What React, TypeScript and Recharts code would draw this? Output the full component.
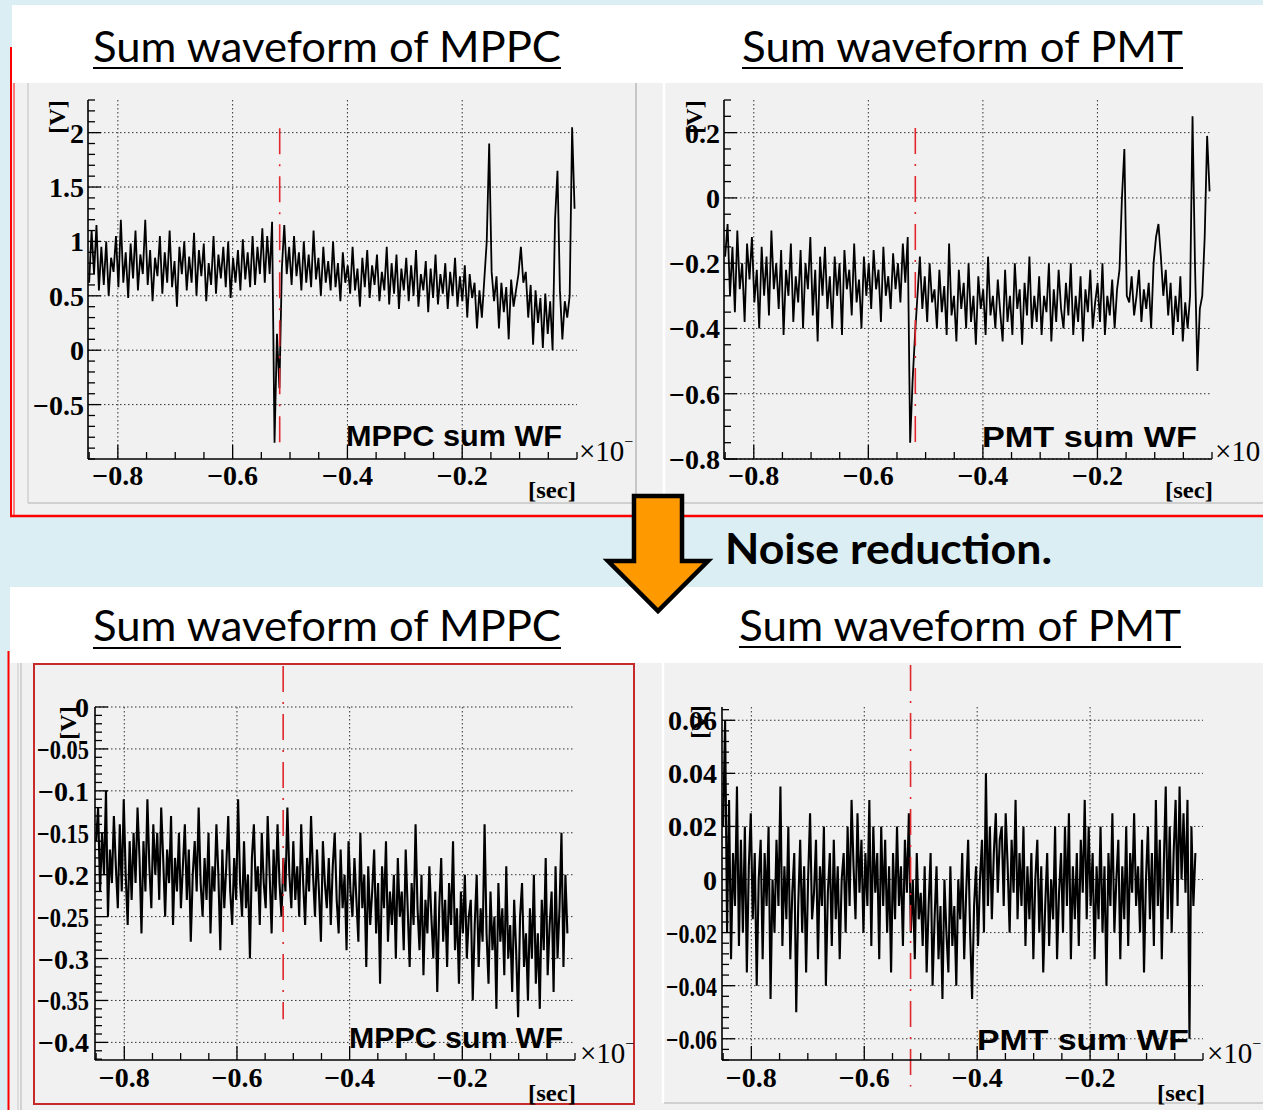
import React from 'react';
import { LineChart, Line, XAxis, YAxis, CartesianGrid, ReferenceLine } from 'recharts';

// ---- sampling grid ----
const T0 = -0.85;
const DT_RAW = 0.00425;
const DT_FILT = 0.0035;

// ---- series values ----
const MPPC_RAW = [
  0.62, 1.10, 0.70, 1.15, 0.55, 0.95, 0.60, 1.00, 0.50, 0.85,
  0.72, 1.05, 0.58, 1.20, 0.62, 0.90, 0.48, 0.98, 0.66, 1.10,
  0.55, 0.88, 0.70, 1.20, 0.60, 0.92, 0.45, 0.85, 0.68, 1.05,
  0.52, 0.90, 0.62, 1.10, 0.58, 0.82, 0.40, 0.95, 0.70, 1.00,
  0.55, 0.86, 0.62, 1.08, 0.50, 0.92, 0.68, 0.98, 0.45, 0.80,
  0.60, 1.05, 0.52, 0.88, 0.66, 0.95, 0.58, 1.00, 0.48, 0.85,
  0.62, 0.92, 0.55, 1.02, 0.65, 0.90, 0.58, 1.05, 0.60, 0.95,
  0.70, 1.12, 0.62, 1.05, 0.70, 1.18, -0.85, 0.15, -0.35, 0.75,
  1.15, 0.70, 0.95, 0.60, 1.05, 0.68, 0.90, 0.55, 1.00, 0.62,
  0.88, 0.58, 1.10, 0.65, 0.85, 0.50, 0.95, 0.62, 0.82, 0.55,
  1.00, 0.58, 0.80, 0.45, 0.90, 0.62, 0.78, 0.52, 0.95, 0.55,
  0.75, 0.40, 0.85, 0.58, 0.92, 0.48, 0.78, 0.60, 0.88, 0.45,
  0.72, 0.55, 0.95, 0.42, 0.80, 0.52, 0.88, 0.38, 0.75, 0.55,
  0.85, 0.45, 0.78, 0.50, 0.92, 0.40, 0.70, 0.55, 0.82, 0.35,
  0.75, 0.48, 0.88, 0.42, 0.70, 0.52, 0.80, 0.38, 0.72, 0.50,
  0.85, 0.40, 0.68, 0.45, 0.78, 0.30, 0.70, 0.48, 0.62, 0.20,
  0.55, 0.30, 0.65, 1.00, 1.90, 0.72, 0.45, 0.68, 0.20, 0.62,
  0.35, 0.58, 0.10, 0.65, 0.40, 0.55, 0.70, 0.95, 0.62, 0.72,
  0.30, 0.60, 0.05, 0.55, 0.25, 0.48, 0.02, 0.52, 0.15, 0.45,
  0.00, 1.20, 1.65, 0.55, 0.10, 0.45, 0.30, 0.50, 2.05, 1.30,
];

const PMT_RAW = [
  -0.18, -0.08, -0.30, -0.15, -0.35, -0.10, -0.28, -0.20, -0.38, -0.14,
  -0.25, -0.12, -0.32, -0.22, -0.40, -0.15, -0.30, -0.18, -0.36, -0.10,
  -0.28, -0.20, -0.34, -0.16, -0.42, -0.22, -0.30, -0.14, -0.38, -0.24,
  -0.32, -0.16, -0.40, -0.20, -0.28, -0.12, -0.36, -0.22, -0.44, -0.18,
  -0.30, -0.15, -0.34, -0.24, -0.40, -0.18, -0.30, -0.20, -0.42, -0.16,
  -0.28, -0.22, -0.36, -0.14, -0.32, -0.25, -0.40, -0.18, -0.30, -0.20,
  -0.34, -0.16, -0.28, -0.22, -0.38, -0.15, -0.30, -0.24, -0.34, -0.17,
  -0.28, -0.20, -0.32, -0.14, -0.26, -0.12, -0.75, -0.56, -0.42, -0.30,
  -0.18, -0.34, -0.24, -0.38, -0.20, -0.32, -0.28, -0.40, -0.22, -0.35,
  -0.27, -0.42, -0.14, -0.36, -0.30, -0.44, -0.22, -0.34, -0.26, -0.40,
  -0.20, -0.38, -0.30, -0.45, -0.24, -0.34, -0.28, -0.42, -0.18, -0.36,
  -0.30, -0.40, -0.25, -0.35, -0.44, -0.22, -0.38, -0.30, -0.42, -0.20,
  -0.34, -0.28, -0.45, -0.26, -0.36, -0.18, -0.40, -0.30, -0.38, -0.24,
  -0.42, -0.30, -0.35, -0.20, -0.44, -0.28, -0.38, -0.22, -0.34, -0.40,
  -0.26, -0.36, -0.20, -0.42, -0.30, -0.38, -0.24, -0.44, -0.28, -0.35,
  -0.22, -0.40, -0.32, -0.26, -0.38, -0.20, -0.42, -0.30, -0.36, -0.25,
  -0.40, -0.28, -0.22, 0.00, 0.15, -0.30, -0.32, -0.24, -0.36, -0.30,
  -0.22, -0.38, -0.28, -0.34, -0.26, -0.40, -0.20, -0.12, -0.08, -0.18,
  -0.30, -0.22, -0.36, -0.26, -0.42, -0.30, -0.38, -0.24, -0.44, -0.32,
  -0.40, -0.30, 0.25, -0.20, -0.53, -0.34, -0.30, -0.12, 0.19, 0.02,
];

const MPPC_FILT = [
  -0.16, -0.12, -0.22, -0.15, -0.20, -0.10, -0.25, -0.17, -0.21, -0.13,
  -0.19, -0.24, -0.14, -0.22, -0.11, -0.20, -0.26, -0.16, -0.23, -0.15,
  -0.21, -0.12, -0.18, -0.27, -0.16, -0.22, -0.11, -0.19, -0.24, -0.14,
  -0.20, -0.15, -0.23, -0.12, -0.18, -0.25, -0.17, -0.21, -0.13, -0.26,
  -0.18, -0.22, -0.15, -0.24, -0.19, -0.14, -0.23, -0.17, -0.28, -0.20,
  -0.16, -0.22, -0.12, -0.21, -0.25, -0.18, -0.23, -0.15, -0.27, -0.19,
  -0.22, -0.14, -0.20, -0.29, -0.17, -0.24, -0.19, -0.13, -0.22, -0.26,
  -0.18, -0.23, -0.11, -0.21, -0.25, -0.16, -0.24, -0.20, -0.30, -0.18,
  -0.14, -0.22, -0.19, -0.26, -0.15, -0.21, -0.24, -0.13, -0.20, -0.27,
  -0.17, -0.23, -0.14, -0.21, -0.25, -0.18, -0.22, -0.12, -0.20, -0.24,
  -0.16, -0.23, -0.19, -0.25, -0.14, -0.21, -0.26, -0.18, -0.22, -0.13,
  -0.20, -0.25, -0.17, -0.22, -0.28, -0.16, -0.21, -0.24, -0.18, -0.26,
  -0.19, -0.15, -0.23, -0.27, -0.17, -0.24, -0.20, -0.29, -0.16, -0.22,
  -0.25, -0.18, -0.23, -0.28, -0.15, -0.24, -0.20, -0.31, -0.19, -0.26,
  -0.22, -0.17, -0.27, -0.21, -0.33, -0.19, -0.24, -0.16, -0.28, -0.22,
  -0.26, -0.20, -0.30, -0.18, -0.25, -0.22, -0.29, -0.17, -0.24, -0.31,
  -0.21, -0.26, -0.14, -0.24, -0.29, -0.20, -0.32, -0.23, -0.27, -0.19,
  -0.25, -0.30, -0.22, -0.34, -0.24, -0.18, -0.28, -0.23, -0.31, -0.21,
  -0.26, -0.16, -0.29, -0.24, -0.33, -0.22, -0.27, -0.20, -0.30, -0.25,
  -0.23, -0.35, -0.26, -0.20, -0.31, -0.24, -0.28, -0.14, -0.27, -0.33,
  -0.22, -0.29, -0.25, -0.36, -0.21, -0.28, -0.24, -0.32, -0.19, -0.30,
  -0.26, -0.34, -0.23, -0.29, -0.37, -0.25, -0.21, -0.31, -0.27, -0.35,
  -0.24, -0.30, -0.20, -0.33, -0.27, -0.36, -0.23, -0.29, -0.18, -0.32,
  -0.26, -0.22, -0.34, -0.19, -0.30, -0.24, -0.15, -0.31, -0.20, -0.27,
];

const PMT_FILT = [
  0.02, 0.06, -0.02, 0.03, -0.03, 0.01, -0.01, 0.035, -0.025, 0.015,
  -0.02, 0.02, -0.035, 0.005, 0.025, -0.015, 0.01, -0.04, 0.00, 0.015,
  -0.03, 0.01, -0.01, 0.02, -0.045, 0.00, -0.02, 0.015, -0.01, 0.035,
  -0.025, 0.005, -0.015, 0.02, -0.03, -0.005, 0.01, -0.05, -0.01, 0.015,
  -0.02, 0.005, -0.035, 0.00, 0.025, -0.015, -0.005, 0.015, -0.03, 0.005,
  -0.01, 0.02, -0.04, -0.005, 0.01, -0.025, 0.015, -0.015, 0.005, -0.03,
  0.00, 0.01, -0.02, 0.02, -0.01, 0.03, 0.005, -0.015, 0.025, -0.005,
  0.015, -0.02, 0.01, -0.01, 0.03, -0.025, 0.02, -0.005, 0.01, -0.03,
  0.02, -0.01, 0.015, -0.02, 0.005, -0.035, 0.01, -0.015, 0.02, -0.01,
  0.005, -0.025, 0.015, -0.005, 0.025, -0.02, 0.00, -0.03, 0.01, -0.015,
  -0.005, -0.025, 0.005, -0.035, -0.01, 0.01, -0.04, -0.015, 0.005, -0.03,
  -0.01, -0.045, 0.00, -0.02, -0.035, 0.005, -0.025, -0.01, -0.04, 0.00,
  -0.015, 0.01, -0.03, -0.005, 0.015, -0.02, -0.045, -0.01, 0.005, -0.025,
  0.00, 0.015, -0.02, 0.04, -0.01, 0.02, -0.015, 0.01, 0.025, -0.005,
  0.015, 0.02, -0.01, 0.025, 0.005, -0.02, 0.015, -0.005, 0.03, -0.015,
  0.01, -0.01, 0.02, -0.025, 0.005, -0.015, 0.01, -0.03, 0.00, 0.015,
  -0.02, 0.005, -0.035, -0.01, 0.01, -0.025, 0.00, -0.015, 0.02, -0.03,
  -0.005, 0.01, -0.02, 0.02, -0.01, 0.025, -0.03, 0.005, -0.015, 0.01,
  -0.025, 0.015, -0.005, 0.03, -0.015, 0.02, -0.01, 0.01, -0.03, 0.005,
  -0.015, 0.02, -0.02, 0.005, -0.04, 0.01, -0.01, 0.025, -0.02, 0.00,
  0.015, -0.03, 0.005, -0.015, 0.02, -0.025, 0.01, -0.005, 0.025, -0.01,
  0.005, -0.02, 0.015, -0.035, 0.00, 0.02, -0.015, 0.01, -0.025, 0.03,
  -0.01, 0.015, -0.03, 0.005, 0.035, -0.015, 0.02, -0.02, 0.01, 0.03,
  -0.01, 0.035, 0.00, 0.025, -0.005, 0.03, -0.06, 0.02, -0.01, 0.01,
];

// ---- ticks / labels ----
const X_MAJOR = [-0.8, -0.6, -0.4, -0.2];
const X_LABELS = ['\u22120.8', '\u22120.6', '\u22120.4', '\u22120.2'];
const TL_Y_MAJOR = [-0.5, 0, 0.5, 1, 1.5, 2];
const TL_Y_LABELS = ['\u22120.5', '0', '0.5', '1', '1.5', '2'];
const TR_Y_MAJOR = [-0.8, -0.6, -0.4, -0.2, 0, 0.2];
const TR_Y_LABELS = ['\u22120.8', '\u22120.6', '\u22120.4', '\u22120.2', '0', '0.2'];
const BL_Y_MAJOR = [-0.4, -0.35, -0.3, -0.25, -0.2, -0.15, -0.1, -0.05, 0];
const BL_Y_LABELS = ['\u22120.4', '\u22120.35', '\u22120.3', '\u22120.25', '\u22120.2', '\u22120.15', '\u22120.1', '\u22120.05', '0'];
const BR_Y_MAJOR = [-0.06, -0.04, -0.02, 0, 0.02, 0.04, 0.06];
const BR_Y_LABELS = ['\u22120.06', '\u22120.04', '\u22120.02', '0', '0.02', '0.04', '0.06'];

const MARKER_T = -0.518;

function stepTicks(lo: number, hi: number, step: number): number[] {
  const out: number[] = [];
  const s = Math.ceil(lo / step - 1e-9);
  const e = Math.floor(hi / step + 1e-9);
  for (let k = s; k <= e; k++) out.push(Math.round(k * step * 1e6) / 1e6);
  return out;
}

function rows(values: number[], dt: number) {
  return values.map((v, i) => ({ t: Math.round((T0 + i * dt) * 1e6) / 1e6, v }));
}

const SERIF = "'Liberation Serif', 'DejaVu Serif', serif";
const SANS = "'Liberation Sans', Arial, sans-serif";
const TITLE = "Lato, 'Open Sans', sans-serif";
const LABEL_SIZE = 28;

function majorIndex(majors: number[], v: number) {
  return majors.findIndex((m) => Math.abs(m - v) < 1e-7);
}

function estWidth(s: string) {
  let w = 0;
  for (const ch of s) w += ch === '\u2212' ? 0.57 : ch === '.' ? 0.25 : 0.5;
  return w * LABEL_SIZE;
}

type Cfg = {
  id: string;
  data: { t: number; v: number }[];
  box: { left: number; top: number; width: number; height: number };
  plot: { left: number; top: number; right: number; bottom: number };
  xDomain: [number, number];
  yDomain: [number, number];
  yMajor: number[];
  yLabels: string[];
  yStep: number;
  labelGap: number;
  xLabelDy: number;
  red: [number, number];
  lineW: number;
};

const X_DOMAIN: [number, number] = [-0.852, 0];

const CHARTS: Cfg[] = [
  {
    id: 'tl', data: rows(MPPC_RAW, DT_RAW),
    box: { left: 28, top: 50, width: 608, height: 466 },
    plot: { left: 88, top: 100, right: 577, bottom: 459 },
    xDomain: X_DOMAIN, yDomain: [-1, 2.3],
    yMajor: TL_Y_MAJOR, yLabels: TL_Y_LABELS, yStep: 0.1, labelGap: 4, xLabelDy: 26,
    red: [2.04, -0.85], lineW: 1.8,
  },
  {
    id: 'tr', data: rows(PMT_RAW, DT_RAW),
    box: { left: 664, top: 50, width: 599, height: 466 },
    plot: { left: 724, top: 100, right: 1212, bottom: 459 },
    xDomain: X_DOMAIN, yDomain: [-0.8, 0.3],
    yMajor: TR_Y_MAJOR, yLabels: TR_Y_LABELS, yStep: 0.05, labelGap: 4, xLabelDy: 26,
    red: [0.214, -0.752], lineW: 1.8,
  },
  {
    id: 'bl', data: rows(MPPC_FILT, DT_FILT),
    box: { left: 35, top: 657, width: 599, height: 446 },
    plot: { left: 95, top: 707, right: 575, bottom: 1060 },
    xDomain: X_DOMAIN, yDomain: [-0.421, 0],
    yMajor: BL_Y_MAJOR, yLabels: BL_Y_LABELS, yStep: 0.01, labelGap: 6, xLabelDy: 27,
    red: [0.049, -0.3725], lineW: 2.1,
  },
  {
    id: 'br', data: rows(PMT_FILT, DT_FILT),
    box: { left: 664, top: 657, width: 599, height: 446 },
    plot: { left: 722, top: 707, right: 1203, bottom: 1060 },
    xDomain: X_DOMAIN, yDomain: [-0.068, 0.065],
    yMajor: BR_Y_MAJOR, yLabels: BR_Y_LABELS, yStep: 0.004, labelGap: 5, xLabelDy: 27,
    red: [0.0808, -0.078], lineW: 2.1,
  },
];

function WaveChart({ c }: { c: Cfg }) {
  const { box, plot } = c;
  const yTicks = stepTicks(c.yDomain[0], c.yDomain[1], c.yStep);
  const xTicks = stepTicks(c.xDomain[0], c.xDomain[1], 0.05);
  const leftW = plot.left - box.left;
  const rightM = box.left + box.width - plot.right;
  const bottomH = box.top + box.height - plot.bottom;
  const topM = plot.top - box.top;
  const avail = leftW - c.labelGap - 2;

  const yTick = (side: 'left' | 'right') => (p: any) => {
    const v = p.payload.value;
    const idx = majorIndex(c.yMajor, v);
    const len = idx >= 0 ? 13 : 7;
    const dir = side === 'left' ? 1 : -1;
    const label = idx >= 0 ? c.yLabels[idx] : '';
    const tooWide = label !== '' && estWidth(label) > avail;
    return (
      <g>
        <line x1={p.x} y1={p.y} x2={p.x + dir * len} y2={p.y} stroke="#000" strokeWidth={1.3} />
        {side === 'left' && idx >= 0 && (
          <text x={p.x - c.labelGap} y={p.y + 10} textAnchor="end" fontFamily={SERIF}
            fontWeight="bold" fontSize={LABEL_SIZE} fill="#000"
            {...(tooWide ? { textLength: avail, lengthAdjust: 'spacingAndGlyphs' } : {})}>{label}</text>
        )}
      </g>
    );
  };
  const xTick = (side: 'top' | 'bottom') => (p: any) => {
    const v = p.payload.value;
    const idx = majorIndex(X_MAJOR, v);
    const len = idx >= 0 ? 14 : 7;
    const dir = side === 'bottom' ? -1 : 1;
    return (
      <g>
        <line x1={p.x} y1={p.y} x2={p.x} y2={p.y + dir * len} stroke="#000" strokeWidth={1.3} />
        {side === 'bottom' && idx >= 0 && (
          <text x={p.x} y={p.y + c.xLabelDy} textAnchor="middle" fontFamily={SERIF}
            fontWeight="bold" fontSize={LABEL_SIZE} fill="#000">{X_LABELS[idx]}</text>
        )}
      </g>
    );
  };

  return (
    <div style={{ position: 'absolute', left: box.left, top: box.top, width: box.width, height: box.height, overflow: 'hidden' }}>
      <LineChart width={box.width} height={box.height} data={c.data}
        margin={{ top: topM, right: rightM, bottom: 0, left: 0 }}>
        <CartesianGrid xAxisId="b" yAxisId="l" horizontalValues={c.yMajor} verticalValues={X_MAJOR}
          stroke="#333" strokeDasharray="1.5 2.5" strokeWidth={1} fill="none" />
        <XAxis xAxisId="b" dataKey="t" type="number" domain={c.xDomain} allowDataOverflow
          orientation="bottom" height={bottomH} ticks={xTicks} interval={0}
          tickSize={0} tickMargin={0} tickLine={false} tick={xTick('bottom')}
          axisLine={{ stroke: '#000', strokeWidth: 1.6 }} />
        <XAxis xAxisId="t" dataKey="t" type="number" domain={c.xDomain} allowDataOverflow
          orientation="top" height={0} ticks={xTicks} interval={0}
          tickSize={0} tickMargin={0} tickLine={false} tick={xTick('top')}
          axisLine={{ stroke: '#000', strokeWidth: 1.6 }} />
        <YAxis yAxisId="l" type="number" domain={c.yDomain} allowDataOverflow
          orientation="left" width={leftW} ticks={yTicks} interval={0}
          tickSize={0} tickMargin={0} tickLine={false} tick={yTick('left')}
          axisLine={{ stroke: '#000', strokeWidth: 1.6 }} />
        <YAxis yAxisId="r" type="number" domain={c.yDomain} allowDataOverflow
          orientation="right" width={0} ticks={yTicks} interval={0}
          tickSize={0} tickMargin={0} tickLine={false} tick={yTick('right')}
          axisLine={{ stroke: '#000', strokeWidth: 1.6 }} />
        <Line xAxisId="b" yAxisId="l" type="linear" dataKey="v" stroke="#000" strokeWidth={c.lineW}
          dot={false} isAnimationActive={false} />
        <ReferenceLine xAxisId="b" yAxisId="l" ifOverflow="visible"
          segment={[{ x: MARKER_T, y: c.red[0] }, { x: MARKER_T, y: c.red[1] }]}
          stroke="#e0282e" strokeWidth={1.6} strokeDasharray="26 10 2 10" />
      </LineChart>
    </div>
  );
}

type Note = { name: string; nameX: number; nameW: number; nameY: number; xTenX: number; xTenY: number; sup: boolean; secX: number; secY: number; vX: number; vY: number };
const NOTES: Note[] = [
  { name: 'MPPC sum WF', nameX: 346, nameW: 216, nameY: 446, xTenX: 579, xTenY: 461, sup: true, secX: 528, secY: 498, vX: 57, vY: 117 },
  { name: 'PMT sum WF', nameX: 982, nameW: 215, nameY: 447, xTenX: 1215, xTenY: 461, sup: false, secX: 1165, secY: 498, vX: 694, vY: 117 },
  { name: 'MPPC sum WF', nameX: 349, nameW: 214, nameY: 1048, xTenX: 580, xTenY: 1063, sup: true, secX: 528, secY: 1101, vX: 68, vY: 723 },
  { name: 'PMT sum WF', nameX: 977, nameW: 212, nameY: 1050, xTenX: 1207, xTenY: 1063, sup: true, secX: 1157, secY: 1101, vX: 699, vY: 722 },
];

const TITLES = [
  { text: 'Sum waveform of MPPC', x: 93, w: 468, y: 62, u: 68 },
  { text: 'Sum waveform of PMT', x: 742, w: 441, y: 62, u: 68 },
  { text: 'Sum waveform of MPPC', x: 93, w: 468, y: 641, u: 648 },
  { text: 'Sum waveform of PMT', x: 739, w: 442, y: 641, u: 647 },
];

export default function App() {
  return (
    <div style={{ position: 'absolute', left: 0, top: 0, width: 1263, height: 1110, overflow: 'hidden', background: '#daeef3' }}>
      <svg width={1263} height={1110} style={{ position: 'absolute', left: 0, top: 0 }}>
        <rect width={1263} height={1110} fill="#daeef3" />
        {/* top panel */}
        <rect x={11} y={47} width={1252} height={468} fill="#f1f1f1" />
        <line x1={11} y1={47} x2={11} y2={516} stroke="#ff0000" strokeWidth={2} />
        <line x1={14} y1={47} x2={14} y2={516} stroke="#ff3030" strokeWidth={1.2} />
        <line x1={28} y1={83} x2={28} y2={503} stroke="#c8c8c8" strokeWidth={1.2} />
        <line x1={28} y1={503} x2={1263} y2={503} stroke="#c4c4c4" strokeWidth={1.5} />
        <line x1={636} y1={83} x2={636} y2={503} stroke="#b8b8b8" strokeWidth={1.5} />
        <line x1={664} y1={83} x2={664} y2={503} stroke="#ffffff" strokeWidth={2.5} />
        <line x1={10} y1={516} x2={1263} y2={516} stroke="#ff0000" strokeWidth={2.5} />
        <rect x={12} y={5} width={1251} height={78} fill="#ffffff" />
        {/* bottom panel */}
        <rect x={8} y={663} width={1255} height={447} fill="#f1f1f1" />
        <line x1={8.5} y1={651} x2={8.5} y2={1110} stroke="#ff0000" strokeWidth={2} />
        <line x1={18} y1={663} x2={18} y2={1110} stroke="#d0d0d0" strokeWidth={1.2} />
        <line x1={21} y1={663} x2={21} y2={1110} stroke="#c0c0c0" strokeWidth={1.2} />
        <rect x={34} y={664} width={600} height={440} fill="none" stroke="#c62a2a" strokeWidth={2} />
        <line x1={663} y1={663} x2={663} y2={1103} stroke="#ffffff" strokeWidth={2.5} />
        <line x1={664} y1={1103} x2={1263} y2={1103} stroke="#c4c4c4" strokeWidth={1.5} />
        <rect x={10} y={587} width={1253} height={76} fill="#ffffff" />
      </svg>

      {CHARTS.map((c) => <WaveChart key={c.id} c={c} />)}

      <svg width={1263} height={1110} style={{ position: 'absolute', left: 0, top: 0, pointerEvents: 'none' }}>
        {TITLES.map((t, i) => (
          <g key={i}>
            <text x={t.x} y={t.y} fontFamily={TITLE} fontSize={42} fill="#000"
              textLength={t.w} lengthAdjust="spacingAndGlyphs">{t.text}</text>
            <line x1={t.x} y1={t.u} x2={t.x + t.w} y2={t.u} stroke="#000" strokeWidth={2.2} />
          </g>
        ))}
        {NOTES.map((n, i) => (
          <g key={i}>
            <text x={n.nameX} y={n.nameY} fontFamily={SANS} fontWeight="bold" fontSize={30} fill="#000"
              textLength={n.nameW} lengthAdjust="spacingAndGlyphs">{n.name}</text>
            <text x={n.xTenX} y={n.xTenY} fontFamily={SERIF} fontSize={29} fill="#000">{'\u00d710'}
              {n.sup && <tspan fontSize={16} dy={-14}>{'\u2212'}</tspan>}
            </text>
            <text x={n.secX} y={n.secY} fontFamily={SERIF} fontWeight="bold" fontSize={24} fill="#000"
              textLength={48} lengthAdjust="spacingAndGlyphs">[sec]</text>
            <text x={n.vX} y={n.vY} transform={`rotate(-90 ${n.vX} ${n.vY})`} textAnchor="middle"
              dominantBaseline="central" fontFamily={SERIF} fontWeight="bold" fontSize={24} fill="#000">[V]</text>
          </g>
        ))}
        {/* arrow */}
        <polygon points="634,496 682,496 682,561 708,561 658,611 608,561 634,561"
          fill="#ff9900" stroke="#000" strokeWidth={4.5} strokeLinejoin="miter" />
        <text x={725} y={564} fontFamily={TITLE} fontWeight="bold" fontSize={42} fill="#000"
          textLength={327} lengthAdjust="spacingAndGlyphs">Noise reduction.</text>
      </svg>
    </div>
  );
}
